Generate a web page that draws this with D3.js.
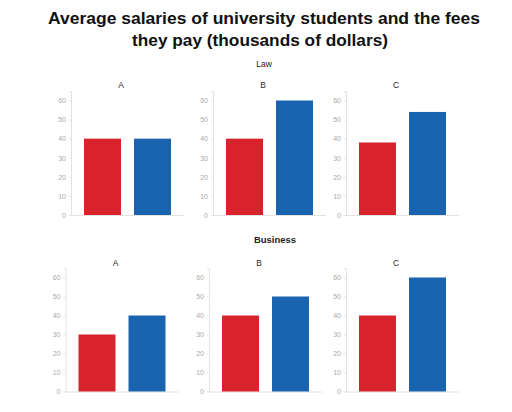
<!DOCTYPE html>
<html><head><meta charset="utf-8">
<script src="https://cdn.jsdelivr.net/npm/d3@7"></script>
<style>body{margin:0;background:#fff}svg{display:block}</style>
</head><body>
<script>
const title = ["Average salaries of university students and the fees", "they pay (thousands of dollars)"];
const groups = ["Law", "Business"];
const universities = ["A", "B", "C"];
const seriesNames = ["salary", "fees"];
const lawSalary = [40, 40, 38];
const lawFees = [40, 60, 54];
const businessSalary = [30, 40, 40];
const businessFees = [40, 50, 60];
const yTicks = [0, 10, 20, 30, 40, 50, 60];
const colors = ["#d8232d", "#1a63ae"];

const W = 512, H = 412;
const svg = d3.select("body").append("svg").attr("width", W).attr("height", H);

const titleWidths = [432, 256];
svg.selectAll("text.title").data(title).join("text")
  .attr("x", (d, i) => i === 0 ? 264 : 260).attr("y", (d, i) => 24 + i * 22)
  .attr("text-anchor", "middle")
  .attr("font-family", "'Liberation Sans', Arial, sans-serif")
  .attr("font-weight", "bold").attr("font-size", 17).attr("fill", "#111")
  .attr("textLength", (d, i) => titleWidths[i]).attr("lengthAdjust", "spacingAndGlyphs")
  .text(d => d);

const rows = [
  {name: groups[0], salary: lawSalary, fees: lawFees, y0: 215, y60: 100.5, labelY: 67, labelSize: 8.5, axisX: [71, 213, 346], titleY: 88},
  {name: groups[1], salary: businessSalary, fees: businessFees, y0: 391.5, y60: 277.5, labelY: 243, labelSize: 9.5, axisX: [65.5, 209, 346], titleY: 266}
];

rows.forEach(row => {
  svg.append("text").attr("x", row === rows[0] ? 264 : 275).attr("y", row.labelY)
    .attr("text-anchor", "middle")
    .attr("font-family", "'Liberation Sans', Arial, sans-serif")
    .attr("font-weight", row === rows[0] ? "normal" : "bold")
    .attr("font-size", row.labelSize).attr("fill", "#222").text(row.name);

  const pxPerUnit = (row.y0 - row.y60) / 60;
  const y = d3.scaleLinear().domain([0, 65]).range([row.y0, row.y0 - 65 * pxPerUnit]);

  universities.forEach((u, i) => {
    const ax = row.axisX[i];
    const x = d3.scaleBand().domain(seriesNames).range([ax, ax + 113]).paddingInner(0.26).paddingOuter(0.26);
    const g = svg.append("g");

    g.append("text").attr("x", ax + 50).attr("y", row.titleY)
      .attr("text-anchor", "middle")
      .attr("font-family", "'Liberation Sans', Arial, sans-serif")
      .attr("font-size", 8.5).attr("fill", "#2a2a2a").text(u);

    const axis = d3.axisLeft(y).tickValues(yTicks).tickSize(2).tickPadding(3);
    const ag = g.append("g").attr("transform", `translate(${ax},0)`).call(axis);
    ag.select(".domain").attr("stroke", "#e2e2e2").attr("stroke-width", 1);
    ag.selectAll(".tick line").attr("stroke", "#e6e6e6");
    ag.selectAll(".tick text").attr("fill", "#aaaaaa").attr("font-size", 7)
      .attr("font-family", "'Liberation Sans', Arial, sans-serif");

    g.append("line").attr("x1", ax).attr("x2", ax + 113)
      .attr("y1", y(0) + 0.5).attr("y2", y(0) + 0.5)
      .attr("stroke", "#e2e2e2");

    const vals = [row.salary[i], row.fees[i]];
    g.selectAll("rect").data(vals).join("rect")
      .attr("x", (d, j) => x(seriesNames[j]))
      .attr("width", x.bandwidth())
      .attr("y", d => y(d))
      .attr("height", d => y(0) - y(d))
      .attr("fill", (d, j) => colors[j]);
  });
});
</script>
</body></html>
